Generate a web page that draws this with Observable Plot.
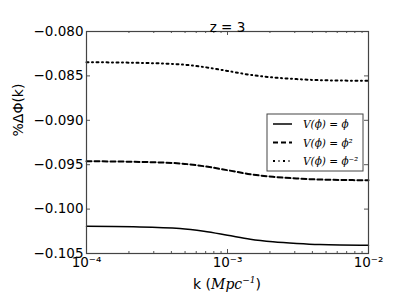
<!DOCTYPE html>
<html><head><meta charset="utf-8">
<script src="https://cdn.jsdelivr.net/npm/d3@7"></script>
<script src="https://cdn.jsdelivr.net/npm/@observablehq/plot@0.6"></script>
<style>body{margin:0;background:#fff;} #chart{position:relative;width:409px;height:307px;}</style>
</head><body><div id="chart"></div>
<script>
const k = [1e-4, 2.15e-4, 4.6e-4, 6.8e-4, 1e-3, 1.45e-3, 2.1e-3, 3.1e-3, 4.5e-3, 1e-2];
const vPhi = [-0.10193, -0.10199, -0.10218, -0.10249, -0.10294, -0.10339, -0.10368, -0.10387, -0.10399, -0.10407];
const vPhi2 = [-0.09461, -0.09467, -0.09486, -0.09517, -0.09562, -0.09607, -0.09636, -0.09655, -0.09667, -0.09675];
const vPhiM2 = [-0.08346, -0.08352, -0.08370, -0.08400, -0.08444, -0.08488, -0.08517, -0.08536, -0.08548, -0.08555];
const xMajor = [1e-4, 1e-3, 1e-2];
const xMajorLabels = ["10⁻⁴", "10⁻³", "10⁻²"];
const yMajor = [-0.105, -0.100, -0.095, -0.090, -0.085, -0.080];
const seriesNames = ["V(ϕ) = ϕ", "V(ϕ) = ϕ²", "V(ϕ) = ϕ⁻²"];
const title = "z = 3";

const W = 409, H = 307;
const mL = 86, mR = 41, mT = 31, mB = 54;
const fw = W - mL - mR, fh = H - mT - mB;
const xMinor = [];
for (const d of [1e-4, 1e-3]) for (let i = 2; i <= 9; i++) xMinor.push(+(d * i).toPrecision(3));

const styles = [
  {data: vPhi, dash: null, w: 1.5},
  {data: vPhi2, dash: "5,3", w: 2},
  {data: vPhiM2, dash: "2,3.5,1,3.5", w: 2}
];
const lines = styles.map(s => Plot.line(k.map((kk, i) => ({k: kk, v: s.data[i]})), {
  x: "k", y: "v", stroke: "black", strokeWidth: s.w, strokeDasharray: s.dash, curve: "monotone-x"
}));

const tickCol = "#555";
const plot = Plot.plot({
  width: W, height: H,
  marginLeft: mL, marginRight: mR, marginTop: mT, marginBottom: mB,
  style: {fontFamily: "DejaVu Sans", fontSize: "13.5px", color: "black", background: "white"},
  x: {type: "log", domain: [1e-4, 1e-2]},
  y: {domain: [-0.105, -0.080]},
  marks: [
    ...lines,
    Plot.tickX(xMajor, {x: d => d, stroke: tickCol, insetTop: fh - 4}),
    Plot.tickX(xMajor, {x: d => d, stroke: tickCol, insetBottom: fh - 4}),
    Plot.tickX(xMinor, {x: d => d, stroke: tickCol, insetTop: fh - 2}),
    Plot.tickX(xMinor, {x: d => d, stroke: tickCol, insetBottom: fh - 2}),
    Plot.tickY(yMajor, {y: d => d, stroke: tickCol, insetRight: fw - 4}),
    Plot.tickY(yMajor, {y: d => d, stroke: tickCol, insetLeft: fw - 4}),
    Plot.frame({stroke: "#444", strokeWidth: 1.2}),
    Plot.axisX({ticks: xMajor, tickSize: 0, tickPadding: 4, tickFormat: d => xMajorLabels[xMajor.indexOf(d)], label: null, fontSize: 13.5}),
    Plot.axisY({ticks: yMajor, tickSize: 0, tickPadding: 3, tickFormat: d3.format(".3f"), label: null, fontSize: 13.5}),
    Plot.text([title], {text: d => d, frameAnchor: "top", dy: -9, fontSize: 13.5}),
    Plot.text(["%ΔΦ(k)"], {text: d => d, frameAnchor: "left", dx: -68, dy: -6, rotate: -90, fontSize: 14})
  ]
});
document.getElementById("chart").appendChild(plot);

const svg = d3.select(plot);
const xs = plot.scale("x");
const cx = (xs.range[0] + xs.range[1]) / 2;
const xl = svg.append("text").attr("x", cx).attr("y", 289).attr("text-anchor", "middle")
  .attr("font-family", "DejaVu Sans").attr("font-size", 14).attr("fill", "black");
xl.append("tspan").text("k (");
xl.append("tspan").attr("font-family", "DejaVu Serif").attr("font-style", "italic").text("Mpc");
xl.append("tspan").attr("font-family", "DejaVu Serif").attr("font-style", "italic").attr("font-size", 9).attr("dy", -6).text("−1");
xl.append("tspan").attr("dy", 6).text(")");

// legend
const lx = 267, ly = 114, lw = 96, lh = 57;
const lg = svg.append("g").attr("text-anchor", "start");
lg.append("rect").attr("x", lx).attr("y", ly).attr("width", lw).attr("height", lh)
  .attr("fill", "white").attr("stroke", "#444").attr("stroke-width", 1);
styles.forEach((s, i) => {
  const yy = ly + 10 + i * 18.5;
  lg.append("line").attr("x1", lx + 6).attr("x2", lx + 25).attr("y1", yy).attr("y2", yy)
    .attr("stroke", "black").attr("stroke-width", s.w).attr("stroke-dasharray", s.dash);
  lg.append("text").attr("x", lx + 36).attr("y", yy + 4).attr("font-family", "DejaVu Serif")
    .attr("font-style", "italic").attr("font-size", 10.5).attr("text-anchor", "start")
    .attr("fill", "black").text(seriesNames[i]);
});
</script></body></html>
